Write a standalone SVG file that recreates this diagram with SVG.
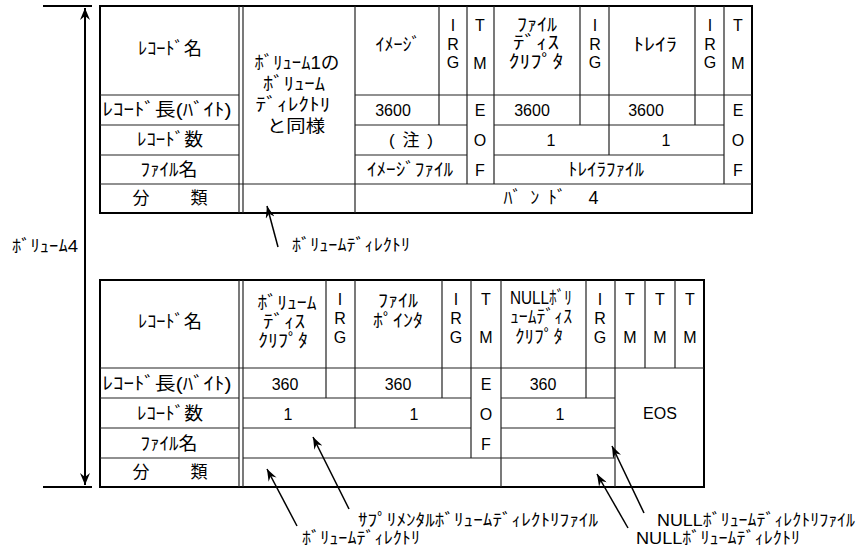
<svg xmlns="http://www.w3.org/2000/svg" width="861" height="551" viewBox="0 0 861 551">
<style>
.o{fill:none;stroke:#000;stroke-width:2}
.i{fill:none;stroke:#222;stroke-width:1.2}
.t{font-family:"Liberation Sans","Noto Sans CJK JP",sans-serif;font-size:16px;text-anchor:middle;dominant-baseline:central;fill:#000}
.k{font-size:18px}
.f{font-size:17px}
.l{font-family:"Liberation Sans","Noto Sans CJK JP",sans-serif;font-size:17px;text-anchor:start;dominant-baseline:central;fill:#000}
.d{fill:none;stroke:#000;stroke-width:2}
.a{fill:none;stroke:#000;stroke-width:1.5}
</style>
<defs>
<marker id="ah" viewBox="0 0 12 10" refX="12" refY="5" markerWidth="12" markerHeight="10" markerUnits="userSpaceOnUse" orient="auto-start-reverse"><path d="M0,0 L12,5 L0,10 L4,5 z" fill="#000"/></marker>
<marker id="ah2" viewBox="0 0 12 9" refX="12" refY="4.5" markerWidth="13" markerHeight="9" markerUnits="userSpaceOnUse" orient="auto"><path d="M0,0 L12,4.5 L0,9 L4,4.5 z" fill="#000"/></marker>
</defs>

<g id="table-top">
<rect class="o" x="100" y="6" width="652" height="207"/>
<path class="i" d="M239,6V213M243,6V213M355,6V213
M100,95H239M355,95H752
M100,125H239M355,125H467M494,125H724
M100,155H239M355,155H467M494,155H724
M100,184H752
M439,6V125M580,6V125M695,6V125M609,6V155M467,6V184M494,6V184M724,6V184"/>
<text class="t k" x="170" y="49" textLength="64" lengthAdjust="spacingAndGlyphs">ﾚｺｰﾄﾞ名</text>
<text class="t k" x="167" y="110" textLength="129" lengthAdjust="spacingAndGlyphs">ﾚｺｰﾄﾞ長(ﾊﾞｲﾄ)</text>
<text class="t k" x="170" y="140" textLength="66" lengthAdjust="spacingAndGlyphs">ﾚｺｰﾄﾞ数</text>
<text class="t k" x="169" y="170" textLength="57" lengthAdjust="spacingAndGlyphs">ﾌｧｲﾙ名</text>
<text class="t f" x="170" y="198" textLength="75" lengthAdjust="spacing">分　類</text>
<text class="t k" x="297" y="63" textLength="85" lengthAdjust="spacingAndGlyphs">ﾎﾞﾘｭｰﾑ1の</text>
<text class="t k" x="294" y="84" textLength="62" lengthAdjust="spacingAndGlyphs">ﾎﾞﾘｭｰﾑ</text>
<text class="t k" x="293" y="105" textLength="75" lengthAdjust="spacingAndGlyphs">ﾃﾞｨﾚｸﾄﾘ</text>
<text class="t f" x="296" y="126" textLength="58" lengthAdjust="spacingAndGlyphs">と同様</text>
<text class="t k" x="398" y="45" textLength="45" lengthAdjust="spacingAndGlyphs">ｲﾒｰｼﾞ</text>
<text class="t" x="453" y="25">I</text><text class="t" x="453" y="44">R</text><text class="t" x="453" y="62">G</text>
<text class="t" x="480" y="25">T</text><text class="t" x="480" y="63">M</text>
<text class="t k" x="537" y="25" textLength="40" lengthAdjust="spacingAndGlyphs">ﾌｧｲﾙ</text>
<text class="t k" x="536" y="43" textLength="46" lengthAdjust="spacingAndGlyphs">ﾃﾞｨｽ</text>
<text class="t k" x="536" y="62" textLength="55" lengthAdjust="spacingAndGlyphs">ｸﾘﾌﾟﾀ</text>
<text class="t" x="595" y="25">I</text><text class="t" x="595" y="44">R</text><text class="t" x="595" y="62">G</text>
<text class="t k" x="655" y="45" textLength="44" lengthAdjust="spacingAndGlyphs">ﾄﾚｲﾗ</text>
<text class="t" x="710" y="25">I</text><text class="t" x="710" y="44">R</text><text class="t" x="710" y="62">G</text>
<text class="t" x="738" y="25">T</text><text class="t" x="738" y="63">M</text>
<text class="t" x="393" y="110">3600</text>
<text class="t" x="480" y="110">E</text>
<text class="t" x="532" y="110">3600</text>
<text class="t" x="646" y="110">3600</text>
<text class="t" x="738" y="110">E</text>
<text class="t f" x="411" y="140" textLength="44" lengthAdjust="spacing">(注)</text>
<text class="t" x="480" y="140">O</text>
<text class="t" x="551" y="140">1</text>
<text class="t" x="666" y="140">1</text>
<text class="t" x="738" y="140">O</text>
<text class="t k" x="410" y="170" textLength="86" lengthAdjust="spacingAndGlyphs">ｲﾒｰｼﾞﾌｧｲﾙ</text>
<text class="t" x="480" y="170">F</text>
<text class="t k" x="606" y="170" textLength="76" lengthAdjust="spacingAndGlyphs">ﾄﾚｲﾗﾌｧｲﾙ</text>
<text class="t" x="738" y="170">F</text>
<text class="t k" x="551" y="198" textLength="95" lengthAdjust="spacing">ﾊﾞﾝﾄﾞ 4</text>
</g>

<g id="table-bottom">
<rect class="o" x="100" y="280" width="604" height="207"/>
<path class="i" d="M239,280V487M243,280V487
M100,368H704
M100,398H239M243,398H471M501,398H615
M100,428H239M243,428H471M501,428H615
M100,458H239M243,458H615
M326,280V398M355,280V428M442,280V398M471,280V458M501,280V487M586,280V398M615,280V487M645,280V368M675,280V368"/>
<text class="t k" x="170" y="322" textLength="64" lengthAdjust="spacingAndGlyphs">ﾚｺｰﾄﾞ名</text>
<text class="t k" x="167" y="384" textLength="129" lengthAdjust="spacingAndGlyphs">ﾚｺｰﾄﾞ長(ﾊﾞｲﾄ)</text>
<text class="t k" x="170" y="414" textLength="66" lengthAdjust="spacingAndGlyphs">ﾚｺｰﾄﾞ数</text>
<text class="t k" x="169" y="444" textLength="57" lengthAdjust="spacingAndGlyphs">ﾌｧｲﾙ名</text>
<text class="t f" x="170" y="472" textLength="75" lengthAdjust="spacing">分　類</text>
<text class="t k" x="287" y="303" textLength="59" lengthAdjust="spacingAndGlyphs">ﾎﾞﾘｭｰﾑ</text>
<text class="t k" x="284" y="322" textLength="42" lengthAdjust="spacingAndGlyphs">ﾃﾞｨｽ</text>
<text class="t k" x="283" y="341" textLength="50" lengthAdjust="spacingAndGlyphs">ｸﾘﾌﾟﾀ</text>
<text class="t" x="340" y="299">I</text><text class="t" x="340" y="318">R</text><text class="t" x="340" y="337">G</text>
<text class="t k" x="398" y="301" textLength="40" lengthAdjust="spacingAndGlyphs">ﾌｧｲﾙ</text>
<text class="t k" x="398" y="321" textLength="50" lengthAdjust="spacingAndGlyphs">ﾎﾟｲﾝﾀ</text>
<text class="t" x="456" y="299">I</text><text class="t" x="456" y="318">R</text><text class="t" x="456" y="337">G</text>
<text class="t" x="486" y="299">T</text><text class="t" x="486" y="337">M</text>
<text class="t k" x="541" y="298" textLength="62" lengthAdjust="spacingAndGlyphs">NULLﾎﾞﾘ</text>
<text class="t k" x="541" y="317" textLength="62" lengthAdjust="spacingAndGlyphs">ｭｰﾑﾃﾞｨｽ</text>
<text class="t k" x="539" y="337" textLength="48" lengthAdjust="spacingAndGlyphs">ｸﾘﾌﾟﾀ</text>
<text class="t" x="600" y="299">I</text><text class="t" x="600" y="318">R</text><text class="t" x="600" y="337">G</text>
<text class="t" x="630" y="299">T</text><text class="t" x="630" y="337">M</text>
<text class="t" x="660" y="299">T</text><text class="t" x="660" y="337">M</text>
<text class="t" x="690" y="299">T</text><text class="t" x="690" y="337">M</text>
<text class="t" x="285" y="384">360</text>
<text class="t" x="398" y="384">360</text>
<text class="t" x="486" y="384">E</text>
<text class="t" x="543" y="384">360</text>
<text class="t" x="288" y="414">1</text>
<text class="t" x="414" y="414">1</text>
<text class="t" x="486" y="414">O</text>
<text class="t" x="560" y="414">1</text>
<text class="t" x="486" y="444">F</text>
<text class="t" x="660" y="413">EOS</text>
</g>

<g id="dimension">
<path class="d" d="M43,6H92M43,487H92"/>
<path class="d" d="M85,8V485" marker-start="url(#ah)" marker-end="url(#ah)"/>
<text class="l" x="12" y="246" textLength="66" lengthAdjust="spacingAndGlyphs">ﾎﾞﾘｭｰﾑ4</text>
</g>

<g id="labels">
<text id="lbl-vd-top" class="l" x="292" y="245" textLength="118" lengthAdjust="spacingAndGlyphs">ﾎﾞﾘｭｰﾑﾃﾞｨﾚｸﾄﾘ</text>
<text id="lbl-svdf" class="l" x="358" y="520" textLength="240" lengthAdjust="spacingAndGlyphs">ｻﾌﾟﾘﾒﾝﾀﾙﾎﾞﾘｭｰﾑﾃﾞｨﾚｸﾄﾘﾌｧｲﾙ</text>
<text id="lbl-vd-bot" class="l" x="302" y="538" textLength="118" lengthAdjust="spacingAndGlyphs">ﾎﾞﾘｭｰﾑﾃﾞｨﾚｸﾄﾘ</text>
<text id="lbl-nvdf" class="l" x="657" y="520" textLength="198" lengthAdjust="spacingAndGlyphs">NULLﾎﾞﾘｭｰﾑﾃﾞｨﾚｸﾄﾘﾌｧｲﾙ</text>
<text id="lbl-nvd" class="l" x="636" y="538" textLength="164" lengthAdjust="spacingAndGlyphs">NULLﾎﾞﾘｭｰﾑﾃﾞｨﾚｸﾄﾘ</text>
</g>

<g id="connectors">
<line class="a" x1="278" y1="247" x2="267" y2="206" marker-end="url(#ah2)"/>
<line class="a" x1="297" y1="526" x2="267" y2="469" marker-end="url(#ah2)"/>
<line class="a" x1="349" y1="509" x2="313" y2="437" marker-end="url(#ah2)"/>
<line class="a" x1="644" y1="513" x2="612" y2="446" marker-end="url(#ah2)"/>
<line class="a" x1="628" y1="528" x2="597" y2="474" marker-end="url(#ah2)"/>
</g>
</svg>
